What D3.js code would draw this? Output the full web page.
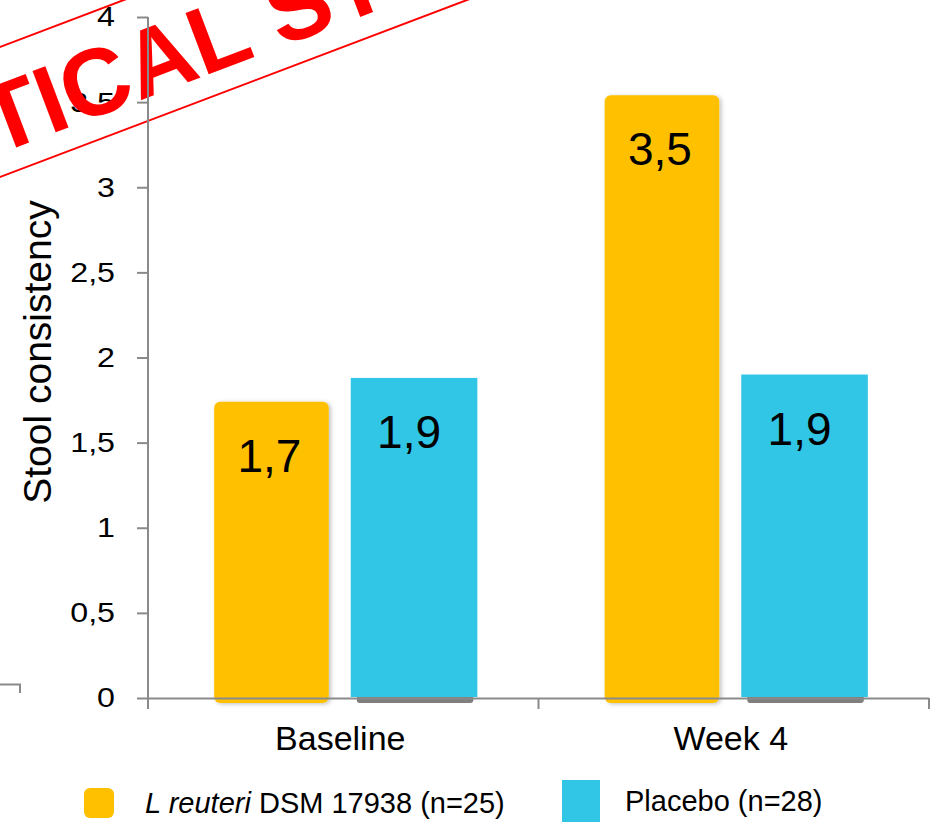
<!DOCTYPE html>
<html>
<head>
<meta charset="utf-8">
<script src="https://cdn.jsdelivr.net/npm/d3@7"></script>
<style>
  html, body { margin: 0; padding: 0; background: #fff; }
  svg { display: block; font-family: "Liberation Sans", Arial, sans-serif; }
</style>
</head>
<body>
<svg id="chart" width="932" height="829"></svg>
<script>
// Mean stool consistency by visit and group
const visits = ["Baseline", "Week 4"];
const groups = ["reuteri", "placebo"];
const reuteriValues = [1.74, 3.54];
const placeboValues = [1.88, 1.9];
const yTicks = [0, 0.5, 1, 1.5, 2, 2.5, 3, 3.5, 4];
const legendLabels = ["DSM 17938 (n=25)", "Placebo (n=28)"];
const groupColors = { reuteri: "#FFC000", placebo: "#31C6E6" };

const rows = visits.map((v, i) => ({ visit: v, reuteri: reuteriValues[i], placebo: placeboValues[i] }));
const comma = v => d3.format(".1f")(v).replace(".", ",");

const svg = d3.select("#chart");
const axisColor = "#8a8a8a";

const y = d3.scaleLinear().domain([0, 4]).range([698, 17]);
const x = d3.scaleBand().domain(visits).range([148, 929]).paddingInner(0).paddingOuter(0);
const sub = d3.scaleBand().domain(groups).range([0, x.bandwidth()]).paddingInner(0.16).paddingOuter(0.44);

const defs = svg.append("defs");
const shadow = defs.append("filter").attr("id", "soft").attr("x", "-10%").attr("y", "-10%").attr("width", "130%").attr("height", "130%");
shadow.append("feDropShadow").attr("dx", 2).attr("dy", 1).attr("stdDeviation", 2).attr("flood-color", "#000").attr("flood-opacity", 0.25);

// fragment of a neighbouring frame at the left edge
svg.append("path")
  .attr("d", "M0,684.5 H20 V693")
  .attr("fill", "none").attr("stroke", axisColor).attr("stroke-width", 2);

// y axis tick labels
const yAxis = d3.axisLeft(y).tickValues(yTicks).tickFormat(d => Number.isInteger(d) ? String(d) : comma(d)).tickSize(11);
const gy = svg.append("g").attr("transform", "translate(148,0)").call(yAxis);
gy.selectAll("text").attr("font-size", 28).attr("fill", "#000").attr("font-family", "Liberation Sans, Arial, sans-serif")
  .attr("transform", "scale(1.15,1)").attr("x", -33 / 1.15);
gy.selectAll(".tick line").attr("stroke", axisColor).attr("stroke-width", 2);
gy.select(".domain").remove();

// y title
svg.append("text")
  .attr("transform", "translate(51,352) rotate(-90)")
  .attr("text-anchor", "middle")
  .attr("font-size", 39)
  .attr("fill", "#000")
  .text("Stool consistency");

// bars
const groupsG = svg.append("g").selectAll("g").data(rows).join("g")
  .attr("transform", d => `translate(${x(d.visit)},0)`);

// grey footing under the placebo bars
groupsG.append("rect")
  .attr("x", sub("placebo") + 2)
  .attr("width", sub.bandwidth() - 4)
  .attr("y", y(0) - 3)
  .attr("height", 8)
  .attr("rx", 3)
  .attr("fill", "#7f7f7f");

groupsG.append("rect")
  .attr("x", sub("reuteri") + 3)
  .attr("width", sub.bandwidth() - 6)
  .attr("y", d => y(d.reuteri))
  .attr("height", d => y(-0.03) - y(d.reuteri))
  .attr("rx", 6)
  .attr("fill", groupColors.reuteri)
  .attr("filter", "url(#soft)");

groupsG.append("rect")
  .attr("x", sub("placebo") - 4)
  .attr("width", sub.bandwidth() + 6)
  .attr("y", d => y(d.placebo))
  .attr("height", d => y(0) - 1 - y(d.placebo))
  .attr("fill", groupColors.placebo);

// value labels
groupsG.selectAll("text.val").data(d => groups.map(g => ({ g, v: d[g] }))).join("text")
  .attr("class", "val")
  .attr("x", d => sub(d.g) + sub.bandwidth() / 2 + (d.g === "placebo" ? -6 : -2))
  .attr("y", d => y(d.v) + 70)
  .attr("text-anchor", "middle")
  .attr("font-size", 46)
  .attr("fill", "#000")
  .text(d => comma(d.v));

// stamp overlay
const theta = Math.atan(177 / 467) * 180 / Math.PI;
const stamp = svg.append("g").attr("transform", `translate(0,177) rotate(${-theta})`);
stamp.append("rect")
  .attr("x", -200).attr("y", -121.6).attr("width", 900).attr("height", 121.6)
  .attr("fill", "none").attr("stroke", "#ff0000").attr("stroke-width", 2);
stamp.append("text")
  .attr("x", -160).attr("y", -22)
  .attr("font-size", 95)
  .attr("font-weight", "bold")
  .attr("fill", "#ff0000")
  .text("CRITICAL STUDY");

// axis lines
svg.append("line").attr("x1", 148).attr("x2", 148).attr("y1", 17).attr("y2", 709)
  .attr("stroke", axisColor).attr("stroke-width", 2);
const xAxis = d3.axisBottom(x).tickSize(0).tickPadding(0);
const gx = svg.append("g").attr("transform", "translate(0,698)").call(xAxis);
gx.select(".domain").attr("stroke", axisColor).attr("stroke-width", 2).attr("d", "M148,0.5H929");
gx.selectAll(".tick line").remove();
gx.selectAll(".tick text").attr("font-size", 34).attr("fill", "#000").attr("y", 52).attr("dy", 0)
  .attr("dx", -3)
  .attr("font-family", "Liberation Sans, Arial, sans-serif");
// band boundary ticks
gx.selectAll("line.edge").data(visits.map(v => x(v) + x.bandwidth()))
  .join("line").attr("class", "edge")
  .attr("x1", d => d).attr("x2", d => d).attr("y1", 0).attr("y2", 11)
  .attr("stroke", axisColor).attr("stroke-width", 2);

// legend
const legend = svg.append("g").attr("font-size", 29).attr("fill", "#000");
legend.append("rect").attr("x", 84).attr("y", 788).attr("width", 30).attr("height", 30).attr("rx", 6).attr("fill", groupColors.reuteri);
const t1 = legend.append("text").attr("x", 145).attr("y", 813);
t1.append("tspan").attr("font-style", "italic").text("L reuteri");
t1.append("tspan").text(" " + legendLabels[0]);
legend.append("rect").attr("x", 562).attr("y", 780).attr("width", 38).attr("height", 42).attr("fill", groupColors.placebo);
legend.append("text").attr("x", 625).attr("y", 811).text(legendLabels[1]);
</script>
</body>
</html>
